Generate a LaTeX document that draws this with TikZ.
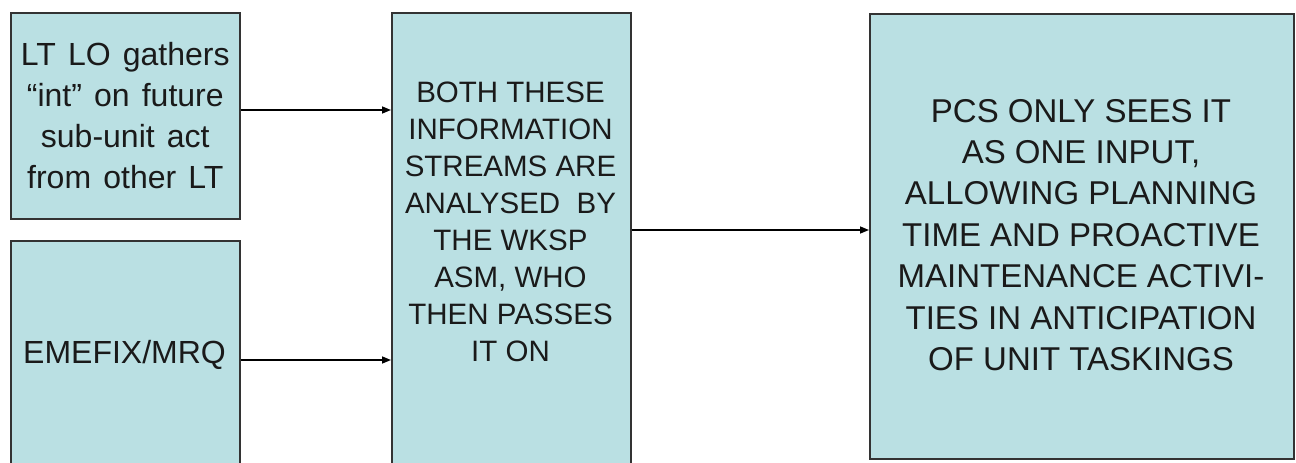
\documentclass[tikz,border=0pt]{standalone}
\usepackage{fontspec}
\setmainfont{Liberation Sans}
\usetikzlibrary{arrows.meta,calc}
\definecolor{boxfill}{HTML}{BAE0E3}
\definecolor{boxline}{HTML}{333333}
\definecolor{txt}{HTML}{1A1A1A}
\newcommand{\widespacing}{\fontdimen2\font=0.38em\relax}
\begin{document}
\begin{tikzpicture}[x=1pt,y=-1pt,
  box/.style={draw=boxline,line width=1.6pt,fill=boxfill,rectangle,inner sep=0pt,anchor=north west},
  boxtext/.style={text=txt,align=center,inner sep=0pt},
  arr/.style={draw=black,line width=1.5pt,-{Triangle[length=9pt,width=7pt]}}]
\useasboundingbox (0,0) rectangle (1296,463);
\fill[white] (0,0) rectangle (1296,463);
\clip (0,0) rectangle (1296,463);
\node[box,minimum width=229pt,minimum height=206pt] (b1) at (10,12) {};
\node[box,minimum width=229pt,minimum height=240pt] (b2) at (10,240) {};
\node[box,minimum width=239pt,minimum height=500pt] (b3) at (391,12) {};
\node[box,minimum width=424pt,minimum height=445pt] (b4) at (869,13) {};
\node[boxtext,font=\fontsize{32}{41}\selectfont] (t1) at (b1.center) {LT\hspace{0.38em}LO\hspace{0.38em}gathers\\“int”\hspace{0.38em}on\hspace{0.38em}future\\sub-unit\hspace{0.38em}act\\from\hspace{0.38em}other\hspace{0.38em}LT};
\node[boxtext,font=\fontsize{32}{41}\selectfont] (t2) at (124.5,355) {EMEFIX/MRQ};
\node[boxtext,font=\fontsize{29.5}{37}\selectfont] (t3) at (510.5,222) {BOTH THESE\\INFORMATION\\STREAMS ARE\\ANALYSED\ \ BY\\THE WKSP\\ASM, WHO\\THEN PASSES\\IT ON};
\node[boxtext,font=\fontsize{33}{41.4}\selectfont] (t4) at (1081,235) {PCS ONLY SEES IT\\AS ONE INPUT,\\ALLOWING PLANNING\\TIME AND PROACTIVE\\MAINTENANCE ACTIVI-\\TIES IN ANTICIPATION\\OF UNIT TASKINGS};
\draw[arr] (b1.east |- 0,110) -- (b3.west |- 0,110);
\draw[arr] (b2.east |- 0,360) -- (b3.west |- 0,360);
\draw[arr] (b3.east |- 0,230) -- (b4.west |- 0,230);
\end{tikzpicture}
\end{document}
